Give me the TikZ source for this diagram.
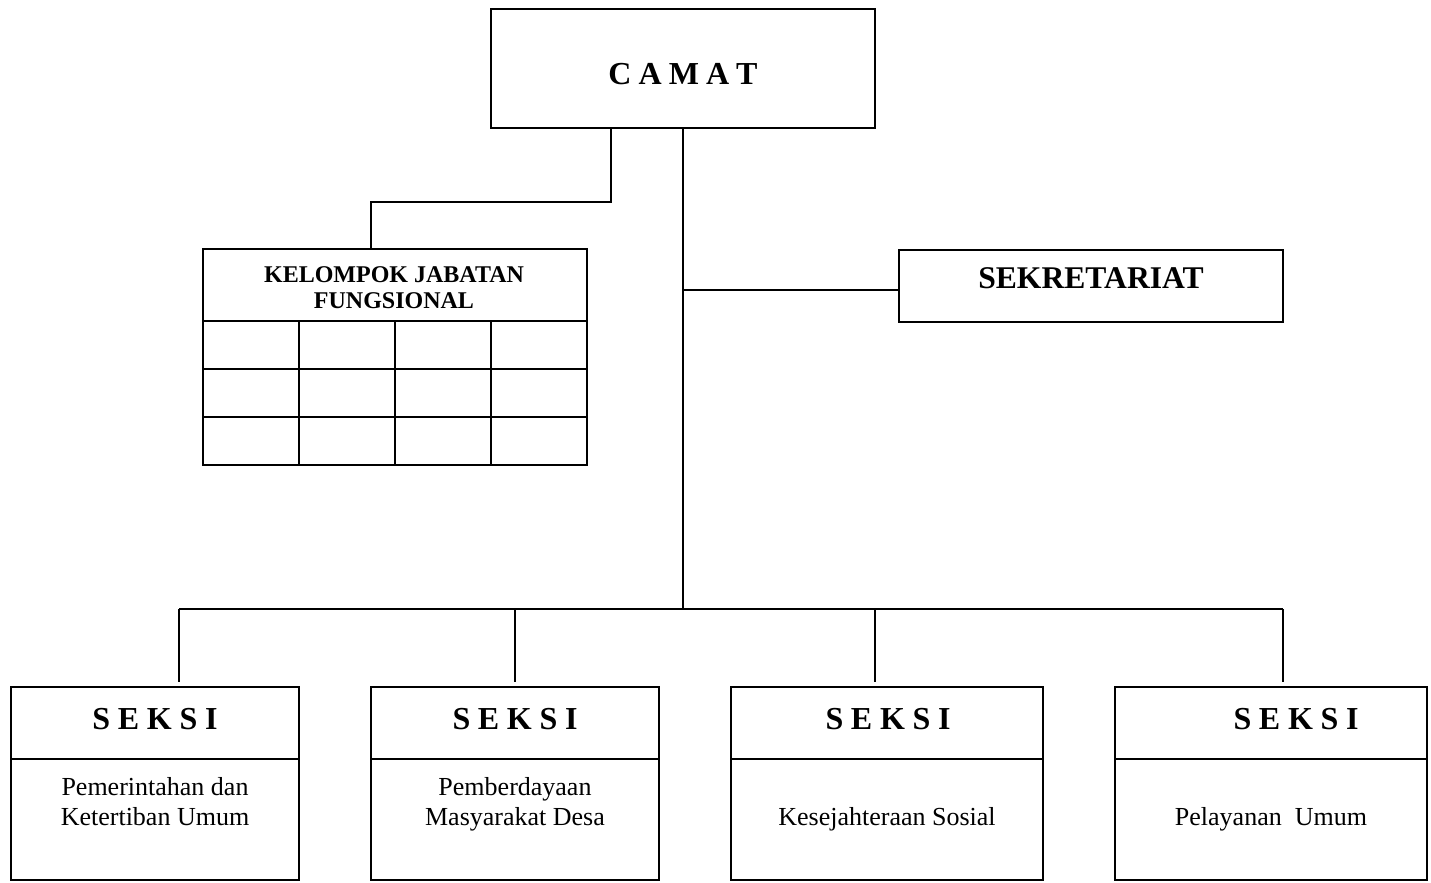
\documentclass[tikz,border=0pt]{standalone}
\usepackage{fontspec}
\setmainfont{Liberation Serif}
\newcommand{\Unit}{0.5pt}
\newcommand{\Rule}{1.0pt}
\newcommand{\Gap}[1]{\hspace{#1em}}
\tikzset{
  unitbox/.style={draw, line width=\Rule, inner sep=0pt},
  headtext/.style={anchor=base, inner sep=0pt, font={\fontsize{16}{19}\selectfont\bfseries}},
  kjftext/.style={anchor=base, inner sep=0pt, font={\fontsize{12}{14}\selectfont\bfseries}},
  subtext/.style={anchor=base, inner sep=0pt, font={\fontsize{13}{15}\selectfont}},
  link/.style={line width=\Rule}
}

\begin{document}
\begin{tikzpicture}[x=\Unit,y=-\Unit, line join=miter]
  \useasboundingbox (0,0) rectangle (1431,883);

  % ---- top: camat ---------------------------------------------------------
  \node[unitbox, minimum width=384*\Unit, minimum height=119*\Unit] (camat) at (683,68.5) {};
  \node[headtext] (camat-t) at (683,85) {C\Gap{.22}A\Gap{.22}M\Gap{.22}A\Gap{.22}T};

  % ---- kelompok jabatan fungsional ----------------------------------------
  \node[unitbox, minimum width=384*\Unit, minimum height=216*\Unit] (kjf) at (395,357) {};
  \node[kjftext] (kjf-t1) at (394,282) {KELOMPOK JABATAN};
  \node[kjftext] (kjf-t2) at (394,308) {FUNGSIONAL};
  % header rule and the empty grid under it
  \draw[link] (kjf.west |- 0,321) -- (kjf.east |- 0,321);
  \foreach \y in {369,417}
    \draw[link] (kjf.west |- 0,\y) -- (kjf.east |- 0,\y);
  \foreach \x in {299,395,491}
    \draw[link] (\x,321) -- (\x,0 |- kjf.south);

  % ---- sekretariat --------------------------------------------------------
  \node[unitbox, minimum width=384*\Unit, minimum height=72*\Unit] (sek) at (1091,286) {};
  \node[headtext, font={\fontsize{15.8}{18}\selectfont\bfseries}] (sek-t) at (1091,288) {SEKRETARIAT};

  % ---- seksi row ----------------------------------------------------------
  \foreach \n/\cx/\w/\tx in {1/155/288/155, 2/515/288/515, 3/887/312/888, 4/1271/312/1296} {
    \node[unitbox, minimum width=\w*\Unit, minimum height=193*\Unit] (seksi\n) at (\cx,783.5) {};
    \draw[link] (seksi\n.west |- 0,759) -- (seksi\n.east |- 0,759);
    \node[headtext] (seksi\n-t) at (\tx,729) {S\Gap{.24}E\Gap{.24}K\Gap{.24}S\Gap{.24}I};
  }
  \node[subtext] (seksi1-a) at (155,795) {Pemerintahan dan};
  \node[subtext] (seksi1-b) at (155,825) {Ketertiban Umum};
  \node[subtext] (seksi2-a) at (515,795) {Pemberdayaan};
  \node[subtext] (seksi2-b) at (515,825) {Masyarakat Desa};
  \node[subtext] (seksi3-a) at (887,825) {Kesejahteraan Sosial};
  \node[subtext] (seksi4-a) at (1271,825) {Pelayanan\ \ Umum};

  % ---- connectors ---------------------------------------------------------
  \coordinate (bus) at (683,609);
  \coordinate (sekjoin) at (683,290);
  \coordinate (kjfknee) at (611,202);
  \coordinate (kjfdrop) at (371,202);
  \draw[link] (camat.south) -- (bus);
  \draw[link] (sekjoin) -- (sekjoin -| sek.west);
  \draw[link] (kjfknee |- camat.south) -- (kjfknee) -- (kjfdrop) -- (kjfdrop |- kjf.north);
  \draw[link] (179,609) -- (1283,609);
  \foreach \n/\dx in {1/179, 2/515, 3/875, 4/1283}
    \draw[link] (\dx,609) -- ([yshift=2pt]seksi\n.north -| \dx,0);
\end{tikzpicture}
\end{document}
